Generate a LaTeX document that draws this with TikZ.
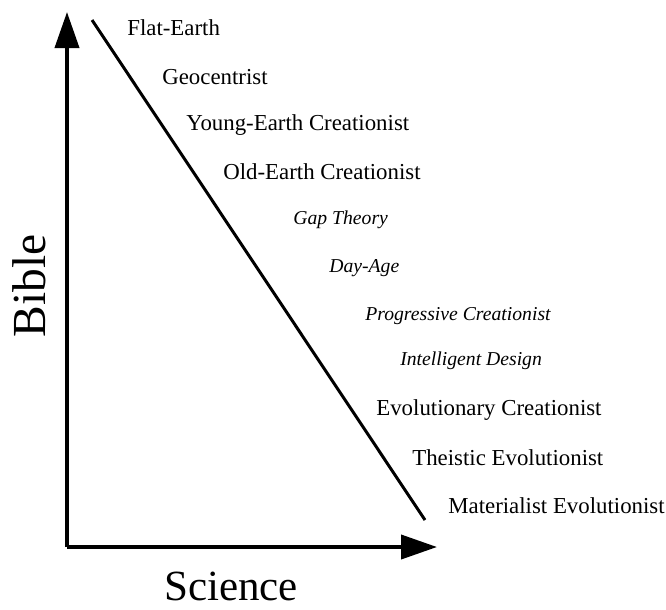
\documentclass[tikz,border=0pt]{standalone}
\usepackage{fontspec}
\setmainfont{Liberation Serif}
\usetikzlibrary{arrows.meta,positioning}

\begin{document}
\begin{tikzpicture}[x=0.02cm, y=-0.02cm, >={Triangle[length=36*0.02cm, width=24*0.02cm]},
		view/.style={anchor=west, font=\fontsize{13}{15}\selectfont, inner sep=0pt},
		iview/.style={view, font=\fontsize{11.2}{13}\selectfont\itshape},
		axis/.style={line width=2.2pt, ->}]
		\useasboundingbox (0,0) rectangle (666,609);
		% axes
		\coordinate (origin) at (67,547);
		\coordinate (ytop) at (67,12);
		\coordinate (xend) at (437,547);
		\draw[axis] (origin) -- (ytop);
		\draw[axis] (origin) -- (xend);
		\node[rotate=90, font=\fontsize{27}{30}\selectfont] (bible) at (29,286) {Bible};
		\node[font=\fontsize{24.5}{28}\selectfont] (science) at (231,586) {Science};
		% the spectrum
		\coordinate (top) at (92,20);
		\coordinate (bottom) at (425,520);
		\draw[line width=1.7pt] (top) -- (bottom);
		% upright labels
		\foreach \nm/\x/\y/\lab in {flat/127/28/Flat-Earth, geo/162/77/Geocentrist,
				young/186/125/Young-Earth Creationist, old/223/172/Old-Earth Creationist,
				evcr/376/410/Evolutionary Creationist, theist/412/458/Theistic Evolutionist,
				mater/448/506/Materialist Evolutionist}
			\node[view] (\nm) at (\x,\y) {\lab};
		% italic labels
		\foreach \nm/\x/\y/\lab in {gap/293/220/Gap Theory, dayage/329/268/Day-Age,
				progr/365/316/Progressive Creationist, id/400/361/Intelligent Design}
			\node[iview] (\nm) at (\x,\y) {\lab};
	\end{tikzpicture}
\end{document}
